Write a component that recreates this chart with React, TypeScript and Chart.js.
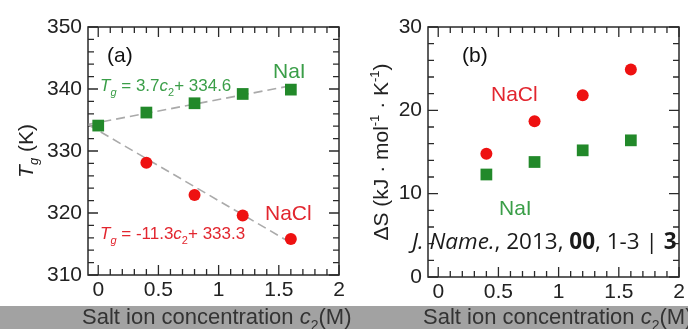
import React, { useEffect, useRef } from "react";
import { Chart, registerables } from "chart.js";

Chart.register(...registerables);

// ---------- data ----------
const concNaI = [0, 0.4, 0.8, 1.2, 1.6];
const tgNaI = [334.1, 336.2, 337.7, 339.2, 339.9];
const concNaCl = [0.4, 0.8, 1.2, 1.6];
const tgNaCl = [328.1, 322.9, 319.6, 315.8];
const fitNaIX = [-0.08, 1.62];
const fitNaIY = [334.3, 340.6];
const fitNaClX = [-0.08, 1.6];
const fitNaClY = [334.2, 315.2];

const dsConc = [0.4, 0.8, 1.2, 1.6];
const dsNaCl = [14.8, 18.7, 21.8, 24.9];
const dsNaI = [12.3, 13.8, 15.2, 16.4];

const xTickValues = [0, 0.5, 1, 1.5, 2];
const tgTickValues = [310, 320, 330, 340, 350];
const dsTickValues = [0, 10, 20, 30];

// ---------- style ----------
const FONT = '"Liberation Sans", Arial, Helvetica, sans-serif';
const AX = "#2a2a2a";
const GREEN_MARK = "#22892a";
const RED_MARK = "#ee1111";
const GREEN_TEXT = "#3a9e48";
const RED_TEXT = "#e2262f";

type Part = { t: string; i?: boolean; b?: boolean; sub?: boolean; sup?: boolean };

function drawRich(
  ctx: CanvasRenderingContext2D,
  parts: Part[],
  x: number,
  y: number,
  size: number,
  family: string,
  color: string,
  align: "left" | "center"
) {
  const fontFor = (p: Part) =>
    `${p.i ? "italic " : ""}${p.b ? "bold " : ""}${p.sub || p.sup ? Math.round(size * 0.62) : size}px ${family}`;
  let total = 0;
  const widths = parts.map((p) => {
    ctx.font = fontFor(p);
    const w = ctx.measureText(p.t).width;
    total += w;
    return w;
  });
  let cx = align === "center" ? x - total / 2 : x;
  ctx.save();
  ctx.fillStyle = color;
  ctx.textBaseline = "alphabetic";
  ctx.textAlign = "left";
  parts.forEach((p, k) => {
    ctx.font = fontFor(p);
    const dy = p.sub ? size * 0.28 : p.sup ? -size * 0.42 : 0;
    ctx.fillText(p.t, cx, y + dy);
    cx += widths[k];
  });
  ctx.restore();
  return total;
}

type Note = { parts: Part[]; x: number; y: number; size: number; color: string; family?: string };

type PanelCfg = {
  width: number;
  barFrom: number;
  yMin: number;
  yMax: number;
  yMinor: number;
  yTicks: number[];
  yWidth: number;
  xHeight: number;
  padRight: number;
  notes: Note[];
  yTitle: Part[];
  yTitleX: number;
  yTitleY: number;
  barTextX: number;
};

function framePlugin(cfg: PanelCfg) {
  return {
    id: "frameTicks",
    beforeDatasetsDraw(chart: any) {
      const { ctx, chartArea: a, scales } = chart;
      const xs = scales.x;
      const ys = scales.y;
      ctx.save();
      ctx.strokeStyle = AX;
      ctx.lineWidth = 1.5;
      ctx.strokeRect(a.left, a.top, a.right - a.left, a.bottom - a.top);
      ctx.lineWidth = 1.3;
      ctx.beginPath();
      for (let k = 0; k <= 20; k++) {
        const v = k / 10;
        const px = xs.getPixelForValue(v);
        const len = k % 5 === 0 ? 10 : 6;
        ctx.moveTo(px, a.bottom);
        ctx.lineTo(px, a.bottom - len);
        ctx.moveTo(px, a.top);
        ctx.lineTo(px, a.top + len);
      }
      for (let v = cfg.yMin; v <= cfg.yMax + 1e-9; v += cfg.yMinor) {
        const py = ys.getPixelForValue(v);
        const len = Math.abs(v % 10) < 1e-6 ? 10 : 6;
        ctx.moveTo(a.left, py);
        ctx.lineTo(a.left + len, py);
        ctx.moveTo(a.right, py);
        ctx.lineTo(a.right - len, py);
      }
      ctx.stroke();
      ctx.restore();
    },
    afterDraw(chart: any) {
      const { ctx, width, height } = chart;
      // gray caption bar
      ctx.save();
      ctx.fillStyle = "#a2a2a2";
      ctx.fillRect(cfg.barFrom, 306, width - cfg.barFrom, height - 306);
      ctx.restore();
      drawRich(
        ctx,
        [{ t: "Salt ion concentration " }, { t: "c", i: true }, { t: "2", sub: true }, { t: "(M)" }],
        cfg.barTextX,
        324,
        22,
        FONT,
        "#333333",
        "left"
      );
      // y title
      ctx.save();
      ctx.translate(cfg.yTitleX, cfg.yTitleY);
      ctx.rotate(-Math.PI / 2);
      drawRich(ctx, cfg.yTitle, 0, 0.36 * 21, 21, FONT, "#222222", "center");
      ctx.restore();
      // annotations
      cfg.notes.forEach((n) => drawRich(ctx, n.parts, n.x, n.y, n.size, n.family || FONT, n.color, "left"));
    },
  };
}

function makeOptions(cfg: PanelCfg): any {
  const tickFont = { family: FONT, size: 21 };
  return {
    animation: false,
    responsive: false,
    devicePixelRatio: 1,
    layout: { padding: { top: 27, right: cfg.padRight, left: 0, bottom: 0 } },
    plugins: { legend: { display: false }, tooltip: { enabled: false }, title: { display: false } },
    scales: {
      x: {
        type: "linear",
        min: -0.085,
        max: 2,
        grid: { display: false, drawTicks: false },
        border: { display: false },
        afterBuildTicks: (s: any) => {
          s.ticks = xTickValues.map((v) => ({ value: v }));
        },
        afterFit: (s: any) => {
          s.height = cfg.xHeight;
        },
        ticks: {
          padding: 3,
          font: tickFont,
          color: "#222222",
          maxRotation: 0,
          autoSkip: false,
          callback: (v: any) => String(Number(v)),
        },
      },
      y: {
        type: "linear",
        min: cfg.yMin,
        max: cfg.yMax,
        grid: { display: false, drawTicks: false },
        border: { display: false },
        afterBuildTicks: (s: any) => {
          s.ticks = cfg.yTicks.map((v) => ({ value: v }));
        },
        afterFit: (s: any) => {
          s.width = cfg.yWidth;
        },
        ticks: { padding: 6, font: tickFont, color: "#222222", autoSkip: false, callback: (v: any) => String(Number(v)) },
      },
    },
  };
}

const pts = (xs: number[], ys: number[]) => xs.map((x, k) => ({ x, y: ys[k] }));

const leftCfg: PanelCfg = {
  width: 362,
  barFrom: 0,
  yMin: 310,
  yMax: 350,
  yMinor: 2,
  yTicks: tgTickValues,
  yWidth: 88,
  xHeight: 54,
  padRight: 23,
  yTitle: [{ t: "T", i: true }, { t: "g", i: true, sub: true }, { t: " (K)" }],
  yTitleX: 25,
  yTitleY: 151,
  barTextX: 82,
  notes: [
    { parts: [{ t: "(a)" }], x: 107, y: 62, size: 21, color: "#111111" },
    { parts: [{ t: "NaI" }], x: 273, y: 78, size: 21, color: GREEN_TEXT },
    {
      parts: [
        { t: "T", i: true },
        { t: "g", i: true, sub: true },
        { t: " = 3.7" },
        { t: "c", i: true },
        { t: "2", sub: true },
        { t: "+ 334.6" },
      ],
      x: 100,
      y: 91,
      size: 17,
      color: GREEN_TEXT,
    },
    { parts: [{ t: "NaCl" }], x: 265, y: 220, size: 21, color: RED_TEXT },
    {
      parts: [
        { t: "T", i: true },
        { t: "g", i: true, sub: true },
        { t: " = -11.3" },
        { t: "c", i: true },
        { t: "2", sub: true },
        { t: "+ 333.3" },
      ],
      x: 100,
      y: 239,
      size: 17,
      color: RED_TEXT,
    },
  ],
};

const rightCfg: PanelCfg = {
  width: 344,
  barFrom: 0,
  yMin: 0,
  yMax: 30,
  yMinor: 2,
  yTicks: dsTickValues,
  yWidth: 84,
  xHeight: 52,
  padRight: 9,
  yTitle: [
    { t: "\u0394S (kJ \u00B7 mol" },
    { t: "-1", sup: true },
    { t: " \u00B7 K" },
    { t: "-1", sup: true },
    { t: ")" },
  ],
  yTitleX: 36,
  yTitleY: 152,
  barTextX: 79,
  notes: [
    { parts: [{ t: "(b)" }], x: 118, y: 62, size: 21, color: "#111111" },
    { parts: [{ t: "NaCl" }], x: 147, y: 101, size: 21, color: RED_TEXT },
    { parts: [{ t: "NaI" }], x: 155, y: 215, size: 21, color: GREEN_TEXT },
    {
      parts: [
        { t: "J. Name.", i: true },
        { t: ", 2013, " },
        { t: "00", b: true },
        { t: ", 1-3 | " },
        { t: "3", b: true },
      ],
      x: 68,
      y: 249,
      size: 22.5,
      color: "#1a1a1a",
      family: '"Open Sans", "DejaVu Sans", sans-serif',
    },
  ],
};

function Panel({ left, z, cfg, datasets }: { left: number; z: number; cfg: PanelCfg; datasets: any[] }) {
  const ref = useRef<HTMLCanvasElement | null>(null);
  useEffect(() => {
    if (!ref.current) return;
    const chart = new Chart(ref.current, {
      type: "scatter",
      data: { datasets },
      options: makeOptions(cfg),
      plugins: [framePlugin(cfg)],
    } as any);
    return () => chart.destroy();
  }, []);
  return (
    <canvas
      ref={ref}
      width={cfg.width}
      height={329}
      style={{ position: "absolute", left, top: 0, width: cfg.width, height: 329, zIndex: z }}
    />
  );
}

export default function App() {
  const leftSets = [
    {
      data: pts(fitNaClX, fitNaClY),
      showLine: true,
      borderColor: "#aaaaaa",
      borderWidth: 1.6,
      borderDash: [9, 5],
      pointRadius: 0,
      order: 5,
    },
    {
      data: pts(fitNaIX, fitNaIY),
      showLine: true,
      borderColor: "#aaaaaa",
      borderWidth: 1.6,
      borderDash: [9, 5],
      pointRadius: 0,
      order: 4,
    },
    {
      data: pts(concNaCl, tgNaCl),
      pointStyle: "circle",
      pointRadius: 6,
      backgroundColor: RED_MARK,
      borderColor: RED_MARK,
      borderWidth: 0,
      order: 2,
    },
    {
      data: pts(concNaI, tgNaI),
      pointStyle: "rect",
      pointRadius: 8.3,
      backgroundColor: GREEN_MARK,
      borderColor: GREEN_MARK,
      borderWidth: 0,
      order: 1,
    },
  ];
  const rightSets = [
    {
      data: pts(dsConc, dsNaCl),
      pointStyle: "circle",
      pointRadius: 6,
      backgroundColor: RED_MARK,
      borderColor: RED_MARK,
      borderWidth: 0,
    },
    {
      data: pts(dsConc, dsNaI),
      pointStyle: "rect",
      pointRadius: 8.3,
      backgroundColor: GREEN_MARK,
      borderColor: GREEN_MARK,
      borderWidth: 0,
    },
  ];
  return (
    <div style={{ position: "fixed", left: 0, top: 0, width: 688, height: 329, background: "#ffffff", overflow: "hidden" }}>
      <Panel left={344} z={1} cfg={rightCfg} datasets={rightSets} />
      <Panel left={0} z={2} cfg={leftCfg} datasets={leftSets} />
    </div>
  );
}
